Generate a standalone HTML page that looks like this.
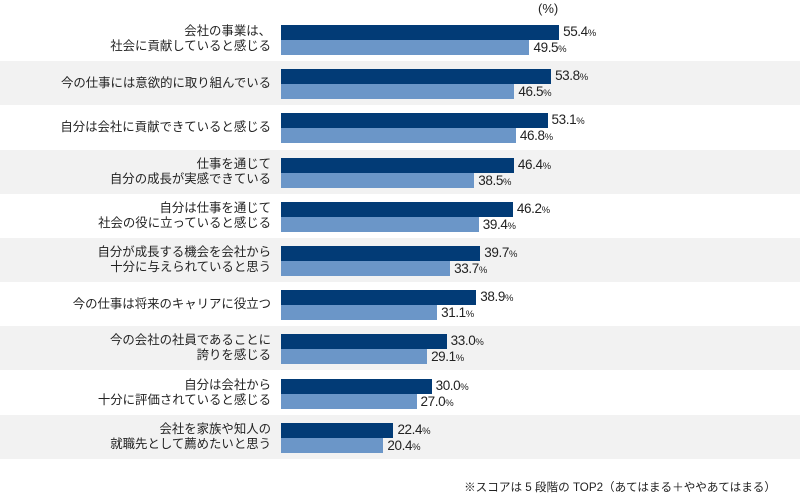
<!DOCTYPE html>
<html><head><meta charset="utf-8"><style>
body{margin:0;width:800px;height:496px;background:#fff;position:relative;overflow:hidden;font-family:"Liberation Sans","Noto Sans CJK JP",sans-serif;color:#222}
.g{position:absolute;left:0;width:800px;height:44px;background:#f2f2f2}
.lab{position:absolute;right:529px;width:270px;text-align:right;font-size:12.4px;line-height:15px;display:flex;flex-direction:column;justify-content:center;height:44px}
.b{position:absolute;left:281px;height:15px}
.d{background:#023b76}.l{background:#6b96c8}
.v{position:absolute;font-size:13.5px;line-height:15px;letter-spacing:-0.4px}
.v small{font-size:9.5px}
</style></head><body>
<div style="position:absolute;left:538px;top:1px;font-size:13px">(%)</div>
<div id="c"></div>
<div style="position:absolute;right:24px;top:479px;font-size:11.6px">※スコアは 5 段階の TOP2（あてはまる＋ややあてはまる）</div>
<script>
var d=[["会社の事業は、<br>社会に貢献していると感じる",55.4,49.5],
["今の仕事には意欲的に取り組んでいる",53.8,46.5],
["自分は会社に貢献できていると感じる",53.1,46.8],
["仕事を通じて<br>自分の成長が実感できている",46.4,38.5],
["自分は仕事を通じて<br>社会の役に立っていると感じる",46.2,39.4],
["自分が成長する機会を会社から<br>十分に与えられていると思う",39.7,33.7],
["今の仕事は将来のキャリアに役立つ",38.9,31.1],
["今の会社の社員であることに<br>誇りを感じる",33.0,29.1],
["自分は会社から<br>十分に評価されていると感じる",30.0,27.0],
["会社を家族や知人の<br>就職先として薦めたいと思う",22.4,20.4]];
var h="";
d.forEach(function(r,k){var t=Math.round(17+44.2*k);
if(k%2)h+='<div class="g" style="top:'+t+'px"></div>';
h+='<div class="lab" style="top:'+t+'px"><div>'+r[0]+'</div></div>';
var w1=r[1]*5.02,w2=r[2]*5.02;
h+='<div class="b d" style="top:'+(t+8)+'px;width:'+w1+'px"></div>';
h+='<div class="b l" style="top:'+(t+23)+'px;width:'+w2+'px"></div>';
h+='<div class="v" style="top:'+(t+7)+'px;left:'+(285+w1)+'px">'+r[1].toFixed(1)+'<small>%</small></div>';
h+='<div class="v" style="top:'+(t+23)+'px;left:'+(285+w2)+'px">'+r[2].toFixed(1)+'<small>%</small></div>';});
document.getElementById("c").innerHTML=h;
</script>
</body></html>
